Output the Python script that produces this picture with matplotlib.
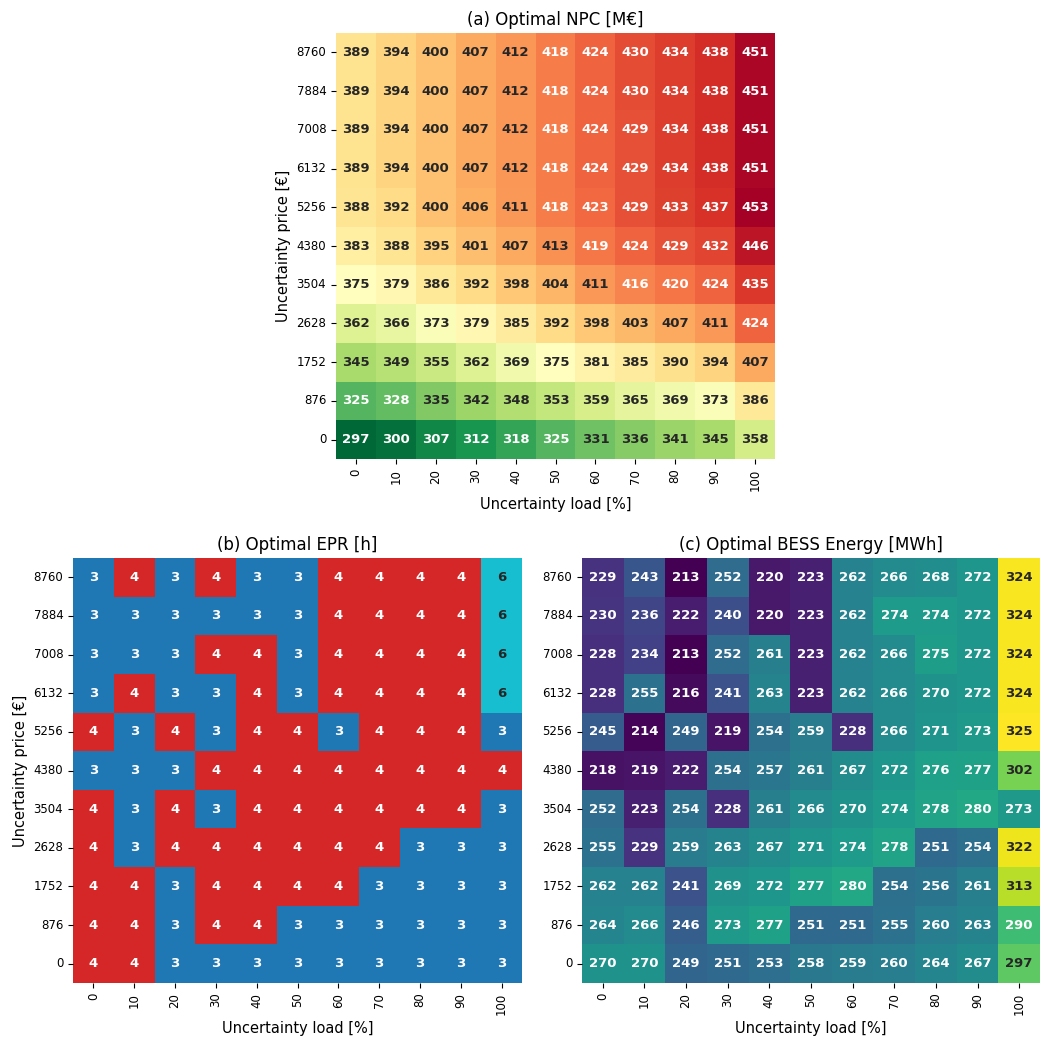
import numpy as np
import matplotlib
matplotlib.use("Agg")
import matplotlib.pyplot as plt
import seaborn as sns

load_pct = [0, 10, 20, 30, 40, 50, 60, 70, 80, 90, 100]
price_hours = [8760, 7884, 7008, 6132, 5256, 4380, 3504, 2628, 1752, 876, 0]

npc = [
    [389, 394, 400, 407, 412, 418, 424, 430, 434, 438, 451],
    [389, 394, 400, 407, 412, 418, 424, 430, 434, 438, 451],
    [389, 394, 400, 407, 412, 418, 424, 429, 434, 438, 451],
    [389, 394, 400, 407, 412, 418, 424, 429, 434, 438, 451],
    [388, 392, 400, 406, 411, 418, 423, 429, 433, 437, 453],
    [383, 388, 395, 401, 407, 413, 419, 424, 429, 432, 446],
    [375, 379, 386, 392, 398, 404, 411, 416, 420, 424, 435],
    [362, 366, 373, 379, 385, 392, 398, 403, 407, 411, 424],
    [345, 349, 355, 362, 369, 375, 381, 385, 390, 394, 407],
    [325, 328, 335, 342, 348, 353, 359, 365, 369, 373, 386],
    [297, 300, 307, 312, 318, 325, 331, 336, 341, 345, 358],
]

epr = [
    [3, 4, 3, 4, 3, 3, 4, 4, 4, 4, 6],
    [3, 3, 3, 3, 3, 3, 4, 4, 4, 4, 6],
    [3, 3, 3, 4, 4, 3, 4, 4, 4, 4, 6],
    [3, 4, 3, 3, 4, 3, 4, 4, 4, 4, 6],
    [4, 3, 4, 3, 4, 4, 3, 4, 4, 4, 3],
    [3, 3, 3, 4, 4, 4, 4, 4, 4, 4, 4],
    [4, 3, 4, 3, 4, 4, 4, 4, 4, 4, 3],
    [4, 3, 4, 4, 4, 4, 4, 4, 3, 3, 3],
    [4, 4, 3, 4, 4, 4, 4, 3, 3, 3, 3],
    [4, 4, 3, 4, 4, 3, 3, 3, 3, 3, 3],
    [4, 4, 3, 3, 3, 3, 3, 3, 3, 3, 3],
]

bess = [
    [229, 243, 213, 252, 220, 223, 262, 266, 268, 272, 324],
    [230, 236, 222, 240, 220, 223, 262, 274, 274, 272, 324],
    [228, 234, 213, 252, 261, 223, 262, 266, 275, 272, 324],
    [228, 255, 216, 241, 263, 223, 262, 266, 270, 272, 324],
    [245, 214, 249, 219, 254, 259, 228, 266, 271, 273, 325],
    [218, 219, 222, 254, 257, 261, 267, 272, 276, 277, 302],
    [252, 223, 254, 228, 261, 266, 270, 274, 278, 280, 273],
    [255, 229, 259, 263, 267, 271, 274, 278, 251, 254, 322],
    [262, 262, 241, 269, 272, 277, 280, 254, 256, 261, 313],
    [264, 266, 246, 273, 277, 251, 251, 255, 260, 263, 290],
    [270, 270, 249, 251, 253, 258, 259, 260, 264, 267, 297],
]

W, H = 1042, 1037
fig = plt.figure(figsize=(W / 100, H / 100), dpi=100)

# axes boxes measured in pixels: left, top, right, bottom
boxes = {
    "a": (336, 33, 775, 459),
    "b": (73, 558, 522, 983),
    "c": (582, 558, 1040, 983),
}


def make_ax(box):
    l, t, r, b = box
    return fig.add_axes([l / W, 1 - b / H, (r - l) / W, (b - t) / H])


def draw(ax, data, cmap, title, ylabel=True):
    sns.heatmap(np.array(data), ax=ax, cmap=cmap, annot=True, fmt="d", cbar=False,
                annot_kws={"fontsize": 9.5, "fontweight": "bold"},
                xticklabels=load_pct, yticklabels=price_hours)
    ax.set_title(title, fontsize=12)
    ax.set_xlabel("Uncertainty load [%]", fontsize=10.5)
    if ylabel:
        ax.set_ylabel("Uncertainty price [€]", fontsize=10.5)
    ax.tick_params(axis="x", labelrotation=90, labelsize=8.5)
    ax.tick_params(axis="y", labelrotation=0, labelsize=8.5)


draw(make_ax(boxes["a"]), npc, "RdYlGn_r", "(a) Optimal NPC [M€]")
draw(make_ax(boxes["b"]), epr, "tab10", "(b) Optimal EPR [h]")
draw(make_ax(boxes["c"]), bess, "viridis", "(c) Optimal BESS Energy [MWh]", ylabel=False)

fig.savefig("out.png", dpi=100)
